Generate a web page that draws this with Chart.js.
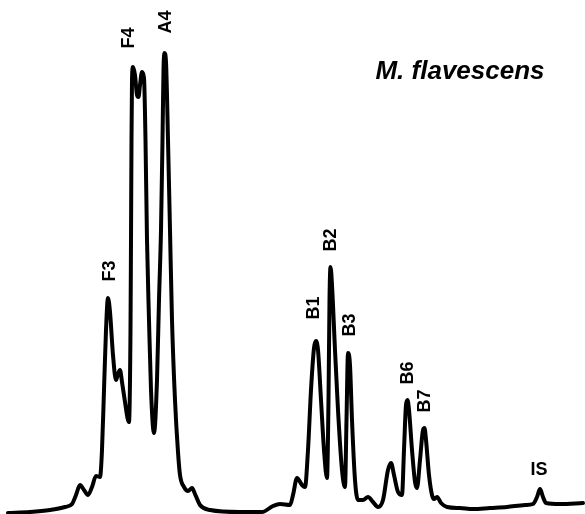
<!DOCTYPE html>
<html>
<head>
<meta charset="utf-8">
<script src="https://cdn.jsdelivr.net/npm/chart.js@4"></script>
<style>
  body { margin: 0; background: #fff; }
  #wrap { width: 585px; height: 514px; }
</style>
</head>
<body>
<div id="wrap"><canvas id="chart"></canvas></div>
<script>
// 保留时间（任意单位）
const retention = [
  8, 30, 50, 65, 72, 76, 80, 84, 88, 92, 96, 100, 102, 104, 106, 108, 110, 113, 116, 118,
  120, 122, 125, 127.5, 129, 130.5, 131, 131.5, 132, 133, 135, 137, 138.5, 140, 142, 144, 145.5, 147, 149, 151,
  154, 157, 159, 161, 162.5, 163.5, 164.5, 166, 168, 170, 172, 175, 178, 180, 184, 188, 192, 195, 200, 210,
  240, 262, 273, 280, 290, 293, 297, 302, 305, 308, 311, 314, 316, 318, 321, 324, 327, 328.5, 329.5, 330.5,
  332, 335, 338, 342, 345, 346.5, 348, 350, 352, 355, 358, 363, 368, 373, 378, 383, 388, 391, 394, 398,
  402, 404, 406, 407.5, 409, 412, 415, 417, 420, 423, 424.5, 426, 429, 432, 434, 437, 441, 447, 460, 473,
  490, 507, 525, 533, 537, 540, 543, 546, 560, 583
];

// 信号强度
const intensity = [
  1, 2, 4, 7, 10, 19, 29, 24, 19, 27, 38, 37, 64, 124, 184, 216, 202, 159, 134, 140,
  144, 132, 112, 96, 92, 184, 274, 374, 434, 447, 439, 419, 417, 429, 442, 436, 374, 274, 194, 124,
  81, 134, 214, 284, 374, 444, 461, 452, 374, 284, 194, 114, 62, 39, 27, 23, 26, 20, 9, 4,
  2, 2, 8, 10, 9, 19, 36, 29, 27, 64, 124, 166, 173, 164, 114, 64, 36, 114, 214, 247,
  229, 164, 104, 44, 27, 94, 161, 149, 94, 34, 14, 14, 17, 12, 7, 14, 44, 51, 39, 22,
  19, 64, 109, 114, 104, 64, 32, 26, 54, 84, 86, 74, 39, 19, 15, 17, 11, 7, 6, 5,
  6, 7, 9, 10, 17, 25, 17, 11, 10, 11
];

// 峰标注
const peakNames = ['F3', 'F4', 'A4', 'B1', 'B2', 'B3', 'B6', 'B7', 'IS'];
const peakX = [110, 129, 166, 314, 331, 350, 408, 425, 539];
const peakY = [243, 476, 492, 206, 274, 189, 141, 113, 44];
const peakRotated = [true, true, true, true, true, true, true, true, false];

const speciesName = 'M. flavescens';
const speciesX = 460;
const speciesY = 442;

const labelPlugin = {
  id: 'peakLabels',
  afterDatasetsDraw(chart) {
    const ctx = chart.ctx;
    const xs = chart.scales.x;
    const ys = chart.scales.y;
    ctx.save();
    ctx.fillStyle = '#000';
    ctx.textAlign = 'center';
    ctx.textBaseline = 'middle';
    ctx.font = 'bold 18px "Liberation Sans", Arial, sans-serif';
    peakNames.forEach((name, i) => {
      const px = xs.getPixelForValue(peakX[i]);
      const py = ys.getPixelForValue(peakY[i]);
      ctx.save();
      ctx.translate(px, py);
      if (peakRotated[i]) ctx.rotate(-Math.PI / 2);
      ctx.fillText(name, 0, 0);
      ctx.restore();
    });
    ctx.font = 'italic bold 26px "Liberation Sans", Arial, sans-serif';
    ctx.fillText(speciesName, xs.getPixelForValue(speciesX), ys.getPixelForValue(speciesY));
    ctx.restore();
  }
};

const points = retention.map((x, i) => ({ x: x, y: intensity[i] }));

new Chart(document.getElementById('chart'), {
  type: 'scatter',
  data: {
    datasets: [{
      data: points,
      showLine: true,
      borderColor: '#000',
      borderWidth: 4,
      pointRadius: 0,
      cubicInterpolationMode: 'monotone',
      borderJoinStyle: 'round',
      borderCapStyle: 'round'
    }]
  },
  options: {
    responsive: true,
    maintainAspectRatio: false,
    animation: false,
    layout: { padding: 0 },
    plugins: { legend: { display: false }, tooltip: { enabled: false } },
    scales: {
      x: { type: 'linear', min: 0, max: 585, display: false },
      y: { type: 'linear', min: 0, max: 514, display: false }
    }
  },
  plugins: [labelPlugin]
});
</script>
</body>
</html>
